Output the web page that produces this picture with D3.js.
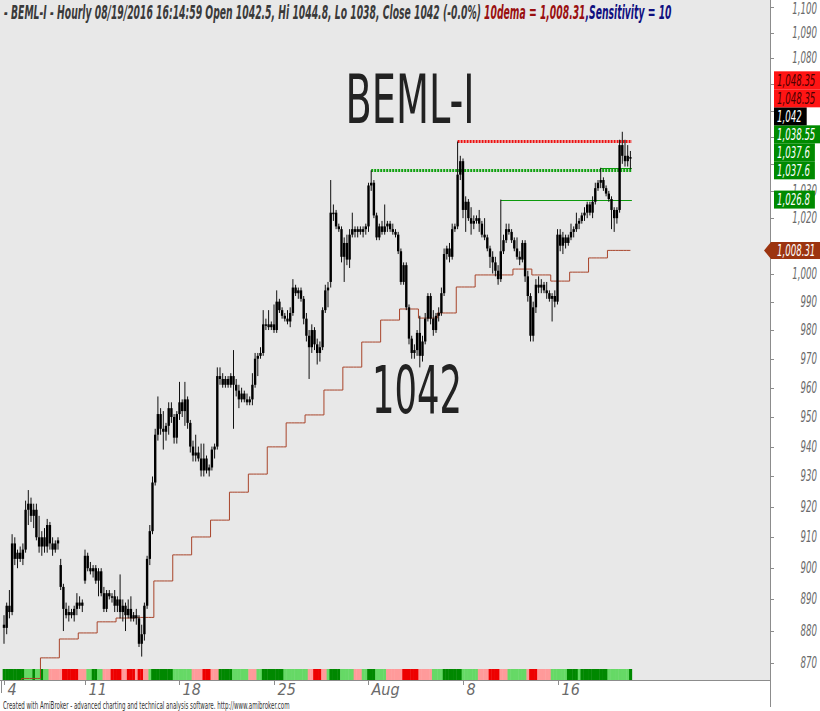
<!DOCTYPE html>
<html><head><meta charset="utf-8">
<script src="https://cdn.jsdelivr.net/npm/d3@7"></script>
<style>
html,body{margin:0;padding:0;background:#fff;}
svg{display:block;}
text{font-family:"Liberation Sans Narrow","Arial Narrow","DejaVu Sans Condensed",sans-serif;}
</style></head><body>
<svg id="chart" width="820" height="711"></svg>
<script>
// ---------------- DATA ----------------
const dates = ["07-04","07-05","07-06","07-07","07-08","07-11","07-12","07-13","07-14","07-15",
  "07-18","07-19","07-20","07-21","07-22","07-25","07-26","07-27","07-28","07-29",
  "08-01","08-02","08-03","08-04","08-05","08-08","08-09","08-10","08-11","08-12",
  "08-16","08-17","08-18","08-19"];
const barsPerDay = [2,7,7,7,7,7,7,7,7,7, 7,7,7,7,7,7,7,7,7,7, 7,7,7,7,7,7,7,7,7,7, 7,7,7,7];
// 10-day EMA (daily) value, one per day
const dema10 = [858,860,865.2,871.6,877.5,879.4,882.9,884.1,884.3,895.9,
  904.3,910.1,915.6,924.8,930.8,939.9,948.0,950.7,959.2,967.1,
  975.8,983.5,987.4,984.2,986.0,995.2,999.5,999.5,1001.6,999.5,
  997.3,1000.5,1005.6,1008.31];
const tickDates = ["07-04","07-11","07-18","07-25","08-01","08-08","08-16"];
const tickLabels = ["4","11","18","25","Aug","8","16"];
const priceTicks = [870,880,890,900,910,920,930,940,950,960,970,980,990,1000,1010,1020,1030,1040,1050,1060,1070,1080,1090,1100];
// hourly bars: [open, high, low, close]
const ohlc = [
[882,885,876,881],[881,889,879,888],
[888,893,884,886],[886,911,885,908],[908,910,901,903],[903,906,900,905],[905,907,902,903],[903,908,901,906],[906,922,905,919],
[919,925.5,914,921],[921,923,915,917],[917,921,913,919],[919,921,909,910],[910,917,905,907],[907,912,904,910],[910,913,905,907],
[907,916,905,914],[914,915,906,908],[908,910,904,906],[906,909,905,908],[908,910,906,909],[901,903,893,894],[894,895,880,887],
[887,889,884,885],[885,888,883,886],[886,887,884,885],[885,888,883,887],[887,892,885,889],[889,891,887,888],[888,890,886,889],
[896,906,895,904],[904,905,899,900],[900,902,898,899],[899,901,897,900],[900,901,895,896],[896,900,891,899],[899,900,891,892],
[892,894,886,887],[887,893,886,892],[892,893,890,891],[891,892,889,891],[891,893,886,888],[888,891,886,890],[890,898,884,886],
[886,890,883,888],[888,889,880,885],[885,890,884,887],[887,891,883,884],[884,886,883,885],[885,887,882,884],[884,885,875,876],
[876,882,872,879],[879,889,877,888],[888,904,887,903],[903,914,901,912],[912,930,911,928],[928,946,927,944],[944,957,942,951],
[951,953,944,946],[946,952,939,945],[945,948,942,947],[947,955,944,953],[953,955,948,950],[950,951,941,943],[943,952,941,951],
[951,962,949,955],[955,956,950,952],[952,962,947,956],[956,957,946,948],[948,949,938,940],[940,942,935,937],[937,944,935,938],
[938,940,935,936],[936,941,930,932],[932,941,930,936],[936,937,931,932],[932,934,930,933],[933,940,932,939],[939,941,936,940],
[940,967,939,964],[964,967,961,963],[963,965,960,961],[961,964,960,963],[963,964,960,961],[961,965,960,964],[964,973,946,961],
[961,963,957,959],[959,961,953,956],[956,960,955,958],[958,959,955,956],[956,958,954,955],[955,957,954,956],[956,965,954,961],
[961,972,960,970],[970,972,964,971],[971,974,970,972],[972,987,971,982],[982,984,980,982],[982,987,980,981],[981,983,980,982],
[982,989,979,980],[980,994,979,990],[990,991,986,987],[987,988,984,985],[985,986,983,984],[984,987,982,983],[983,988,981,986],
[986,998,985,995],[995,996,992,993],[993,995,991,994],[994,995,990,991],[991,992,982,984],[984,986,976,978],[978,980,963,974],
[974,982,972,980],[980,981,973,975],[975,977,968,972],[972,976,969,974],[974,988,973,987],[987,996,986,994],[994,997,988,995],
[997,1034,995,1022],[1022,1025,1019,1022],[1022,1023,1016,1017],[1017,1018,1015,1016],[1016,1017,1004,1006],[1006,1013,997,1011],[1011,1014,1003,1005],
[1005,1016,1002,1014],[1014,1022,1013,1016],[1016,1017,1013,1015],[1015,1017,1013,1016],[1016,1017,1014,1015],[1015,1017,1013,1016],[1016,1018,1014,1017],
[1017,1033,1015,1032],[1032,1037.6,1030,1033],[1033,1034,1020,1021],[1021,1022,1012,1013],[1013,1018,1012,1017],[1017,1019,1014,1015],[1015,1025,1014,1017],
[1017,1019,1015,1018],[1018,1019,1015,1016],[1016,1018,1014,1015],[1015,1016,1013,1014],[1014,1015,1007,1008],[1008,1009,996,997],[997,1004,996,1003],
[1003,1004,987,988],[988,989,975,977],[977,978,970,972],[972,975,970,973],[973,980,971,979],[979,985,967,971],[971,978,969,976],
[976,986,975,984],[984,993,983,992],[992,993,982,984],[984,987,978,980],[980,986,979,985],[985,988,983,986],[986,995,985,993],
[993,1009,992,1007],[1007,1010,1005,1009],[1009,1011,1004,1006],[1006,1018,1005,1016],[1016,1018,1015,1017],[1017,1048.35,1016,1036],[1036,1043,1034,1041],
[1041,1042,1020,1023],[1023,1028,1015,1026],[1026,1027,1019,1020],[1020,1024,1014,1018],[1018,1021,1016,1019],[1019,1021,1018,1020],[1020,1023,1015,1018],
[1018,1019,1013,1014],[1014,1020,1012,1013],[1013,1014,1008,1009],[1009,1010,1002,1006],[1006,1008,1000,1004],[1004,1006,999,1001],[1001,1003,996,998],
[998,1026.8,997,1008],[1008,1014,1007,1012],[1012,1018,1011,1016],[1016,1018,1014,1015],[1015,1016,1011,1012],[1012,1013,1008,1009],[1009,1013,1005,1006],
[1006,1008,1003,1005],[1005,1012,1004,1011],[1011,1012,997,999],[999,1001,990,992],[992,993,976,978],[978,990,976,988],[988,998,986,996],
[996,999,993,995],[995,998,993,996],[996,997,993,994],[994,997,991,993],[993,994,990,991],[991,993,983,992],[992,994,988,990],
[990,1016,989,1014],[1014,1016,1008,1010],[1010,1015,1007,1013],[1013,1014,1009,1011],[1011,1014,1010,1013],[1013,1018,1012,1015],[1015,1017,1013,1016],
[1016,1022,1015,1018],[1018,1020,1016,1019],[1019,1022,1018,1021],[1021,1024,1019,1022],[1022,1026,1020,1025],[1025,1026,1021,1022],[1022,1028,1020,1026],
[1026,1033,1025,1031],[1031,1034,1030,1033],[1033,1038.55,1031,1034],[1034,1035,1030,1031],[1031,1032,1028,1029],[1029,1030,1026,1027],[1027,1028,1016,1023],
[1023,1024,1015,1020],[1020,1024,1018,1023],[1023,1049,1022,1047],[1047,1052,1040,1043],[1043,1049,1039,1041],[1041,1047,1039,1043],[1042.5,1044.8,1038,1042]
];
// colour strip under the price, run-length [count, state]
const stripRuns = [[8,"D"],[3,"L"],[1,"D"],[2,"L"],[1,"D"],[2,"L"],[5,"P"],[6,"R"],[3,"P"],[2,"L"],[2,"D"],[2,"L"],[3,"P"],[4,"R"],[2,"P"],[3,"R"],[1,"P"],[2,"R"],[2,"P"],[1,"L"],[8,"D"],[7,"L"],[4,"P"],[3,"R"],[3,"P"],[5,"D"],[6,"L"],[3,"P"],[2,"L"],[8,"D"],[9,"L"],[2,"P"],[3,"R"],[2,"P"],[1,"L"],[4,"D"],[5,"L"],[3,"P"],[2,"L"],[3,"D"],[4,"L"],[6,"P"],[6,"R"],[5,"P"],[4,"L"],[7,"D"],[6,"L"],[4,"P"],[4,"R"],[3,"P"],[7,"L"],[1,"P"],[3,"R"],[5,"P"],[6,"L"],[4,"D"],[1,"L"],[10,"D"],[8,"L"],[1,"D"]];
// pivot levels (value, starting bar)
const pivotValues = [1048.35, 1037.6, 1026.8, 1038.55];
const pivotStart  = [168, 136, 184, 221];
const pivotKind   = ["dotRed","dotGreen","thin","thin"];
// right-hand value labels
const labelValues = [1048.35, 1048.35, 1042, 1038.55, 1037.6, 1037.6, 1026.8, 1008.31];
const labelKinds  = ["red","red","black","green","green","green","green","ema"];

// ---------------- CHART ----------------
const svg = d3.select("#chart");
const W = 820, H = 711, PR = 770, PB = 680;
const N = ohlc.length;
const x = d3.scaleLinear().domain([0, N - 1]).range([4, 630.4]);
const y = d3.scaleLog().domain([870, 1100]).range([663, 7]);
const bw = (x(1) - x(0));
const fmt = d3.format(",");

const numWidth = s => s.split("").reduce((a, ch) => a + (/[0-9]/.test(ch) ? 5.5 : 2.7), 0);
function fitText(parent, str, X, Y, target, anchor, attrs) {
  const t = parent.append("text").attr("x", 0).attr("y", 0).attr("text-anchor", anchor || "start");
  Object.entries(attrs || {}).forEach(([k, v]) => t.attr(k, v));
  if (typeof str === "function") str(t); else t.text(str);
  const n = t.node().getComputedTextLength() || target;
  t.attr("transform", `translate(${X},${Y}) scale(${(target / n).toFixed(4)},1)`);
  return t;
}

svg.append("rect").attr("width", W).attr("height", H).attr("fill", "#fff");
svg.append("rect").attr("x", 0).attr("y", 0).attr("width", PR).attr("height", PB).attr("fill", "#e8e8e8");
svg.append("defs").append("clipPath").attr("id", "clip")
  .append("rect").attr("x", 0).attr("y", 0).attr("width", PR).attr("height", PB);
const g = svg.append("g").attr("clip-path", "url(#clip)");

const dayOfBar = [];
barsPerDay.forEach((n, d) => { for (let k = 0; k < n; k++) dayOfBar.push(d); });
const dayStart = [];
{ let s = 0; barsPerDay.forEach(n => { dayStart.push(s); s += n; }); }

// big labels
fitText(g, "BEML-I", 410, 123, 129, "middle", { "font-size": 68, fill: "#222" });
fitText(g, String(ohlc[N - 1][3]), 417, 413, 90, "middle", { "font-size": 66, fill: "#222" });

// colour strip
const stripColor = { D: "#008800", L: "#66d966", P: "#ff9a9a", R: "#ee0000" };
const stripBars = [];
stripRuns.forEach(([n, s]) => { for (let k = 0; k < n; k++) stripBars.push(s); });
g.selectAll("rect.strip").data(stripBars).join("rect").attr("class", "strip")
  .attr("x", (d, i) => x(i) - bw / 2).attr("width", bw + 0.4)
  .attr("y", 669).attr("height", 11).attr("fill", d => stripColor[d]);

// 10 dema step line
const demaBar = d3.range(N).map(i => dema10[dayOfBar[Math.min(i + 2, N - 1)]]);
g.append("path").datum(demaBar)
  .attr("d", d3.line().x((d, i) => x(i)).y(d => y(d)).curve(d3.curveStep))
  .attr("fill", "none").attr("stroke", "#a8442a").attr("stroke-width", 1);

// pivot lines
pivotValues.forEach((v, k) => {
  const kind = pivotKind[k];
  const yy = Math.round(y(v)) + 0.5;
  const ln = g.append("line").attr("x1", x(pivotStart[k])).attr("x2", x(N - 1) + 1.5)
    .attr("y1", yy).attr("y2", yy);
  if (kind === "dotRed") ln.attr("stroke", "#ee1111").attr("stroke-width", 3).attr("stroke-dasharray", "2,1");
  else if (kind === "dotGreen") ln.attr("stroke", "#10a010").attr("stroke-width", 3).attr("stroke-dasharray", "2,1");
  else ln.attr("stroke", "#0c9a0c").attr("stroke-width", 1);
});

// candles
const cg = g.append("g");
cg.selectAll("line.wick").data(ohlc).join("line").attr("class", "wick")
  .attr("x1", (d, i) => x(i)).attr("x2", (d, i) => x(i))
  .attr("y1", d => y(d[1])).attr("y2", d => y(d[2]))
  .attr("stroke", "#111").attr("stroke-width", 1);
cg.selectAll("rect.body").data(ohlc).join("rect").attr("class", "body")
  .attr("x", (d, i) => x(i) - 1.2).attr("width", 2.4)
  .attr("y", d => y(Math.max(d[0], d[3])))
  .attr("height", d => Math.max(1.5, y(Math.min(d[0], d[3])) - y(Math.max(d[0], d[3]))))
  .attr("fill", "#000");

// axes lines
svg.append("line").attr("x1", PR + 0.5).attr("x2", PR + 0.5).attr("y1", 0).attr("y2", 707).attr("stroke", "#8c8c8c");
svg.append("line").attr("x1", 0).attr("x2", PR).attr("y1", PB + 0.5).attr("y2", PB + 0.5).attr("stroke", "#8c8c8c");
svg.append("line").attr("x1", 1.5).attr("x2", 1.5).attr("y1", PB).attr("y2", 693).attr("stroke", "#8c8c8c");

// stacked positions of right-hand value labels
const order = d3.range(labelValues.length).sort((a, b) => labelValues[a] - labelValues[b]);
const LH = 18;
const labelPos = [];
{ let prev = Infinity; order.forEach(idx => { const c = Math.min(y(labelValues[idx]), prev - LH); prev = c; labelPos.push({ idx, c }); }); }
const covered = v => labelPos.some(p => Math.abs(y(v) - p.c) < LH / 2 - 2.5);

// right axis ticks & labels
const ya = svg.append("g");
ya.selectAll("line").data(priceTicks).join("line")
  .attr("x1", PR).attr("x2", PR + 4).attr("y1", d => Math.round(y(d)) + 0.5).attr("y2", d => Math.round(y(d)) + 0.5)
  .attr("stroke", "#8c8c8c");
priceTicks.filter(v => !covered(v)).forEach(v => {
  fitText(ya, fmt(v), 817, Math.max(y(v) + 5, 14), numWidth(fmt(v)), "end",
    { "font-size": 15, "font-style": "italic", fill: "#6a6a6a" });
});

// bottom axis ticks & labels
const xa = svg.append("g");
tickDates.forEach((dt, k) => {
  const bi = dayStart[dates.indexOf(dt)];
  const xx = Math.round(x(bi)) + 0.5;
  xa.append("line").attr("x1", xx).attr("x2", xx).attr("y1", PB).attr("y2", PB + 5).attr("stroke", "#8c8c8c");
  xa.append("text").attr("x", xx + 3).attr("y", 695).attr("font-size", 16).attr("font-style", "italic")
    .attr("fill", "#6a6a6a").text(tickLabels[k]);
});

// right value labels
const lab = svg.append("g");
labelPos.forEach(({ idx, c }) => {
  const v = labelValues[idx], kind = labelKinds[idx];
  const bg = { red: "#ff1414", black: "#000", green: "#008a00", ema: "#9c3410" }[kind];
  const fg = { red: "#4a0000", black: "#fff", green: "#fff", ema: "#fff" }[kind];
  const s = fmt(v);
  const tw = numWidth(s);
  if (kind === "ema") {
    lab.append("path").attr("d", `M764,${c} L771,${c - 8.5} L820,${c - 8.5} L820,${c + 8.5} L771,${c + 8.5} Z`).attr("fill", bg);
  } else {
    lab.append("rect").attr("x", 774).attr("y", c - LH / 2).attr("width", Math.min(46, tw + 8)).attr("height", LH).attr("fill", bg);
  }
  fitText(lab, s, 777, c + 5.5, tw, "start", { "font-size": 16, "font-style": "italic", fill: fg });
});

// title (one text, coloured parts)
const last = ohlc[N - 1];
fitText(svg, t => {
  t.append("tspan").attr("fill", "#3a3a3a")
    .text(`- BEML-I - Hourly 08/19/2016 16:14:59 Open ${last[0]}, Hi ${last[1]}, Lo ${last[2]}, Close ${last[3]} (-0.0%) `);
  t.append("tspan").attr("fill", "#9a1010").text(`10dema = ${fmt(dema10[dema10.length - 1])}`);
  t.append("tspan").attr("fill", "#101080").text(",Sensitivity = 10");
}, 4, 18.5, 668, "start", { "font-size": 19, "font-weight": "bold", "font-style": "italic" });

// footer
fitText(svg, "Created with AmiBroker - advanced charting and technical analysis software. http://www.amibroker.com",
  3, 708.5, 287, "start", { "font-size": 10, fill: "#333" });
</script>
</body></html>
